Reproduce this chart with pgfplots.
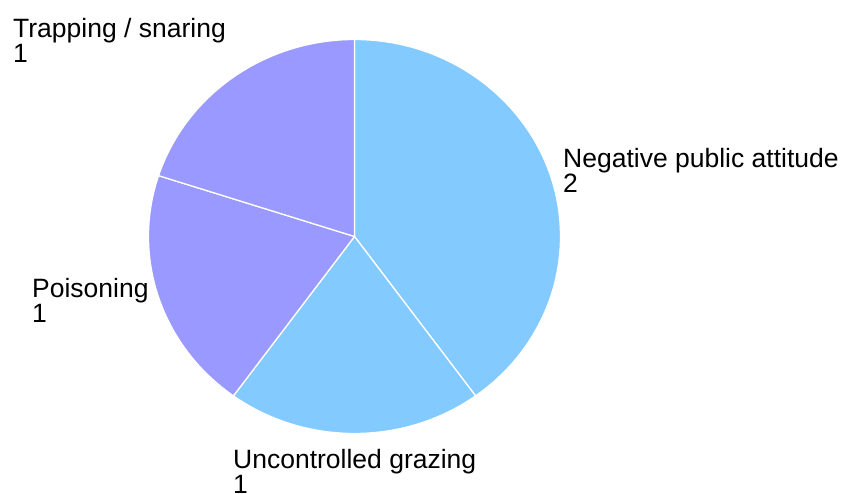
\documentclass[border=0pt]{standalone}
\usepackage{pgfplots}
\pgfplotsset{compat=1.18}
\usepackage{fontspec}
\setmainfont{Liberation Sans}
\definecolor{pieblue}{RGB}{130,202,255}
\definecolor{piepurple}{RGB}{153,153,255}
\newcommand{\lbl}{\fontsize{26.5}{25}\selectfont}
\begin{document}
\begin{tikzpicture}
\begin{axis}[
  width=843pt, height=493pt, scale only axis,
  xmin=0, xmax=843, ymin=0, ymax=493,
  hide axis, clip=false]
\path (axis cs:0,0) (axis cs:843,493);
\pgfplotsextra{
  \xdef\cum{90}
  \foreach \v/\c in {2/pieblue,1/pieblue,1/piepurple,1/piepurple}{
    \pgfmathsetmacro{\s}{\cum}
    \pgfmathsetmacro{\e}{\cum-\v/5*360}
    \fill[\c, draw=white, line width=1.3pt, line join=round]
      (axis cs:354.5,256.5) -- ++(\s:206pt and 197pt)
      arc[start angle=\s, end angle=\e, x radius=206pt, y radius=197pt] -- cycle;
    \xdef\cum{\e}
  }
}
\node[anchor=base west, inner sep=0pt, font=\lbl] at (axis cs:563,325) {Negative public attitude};
\node[anchor=base west, inner sep=0pt, font=\lbl] at (axis cs:563,300) {2};
\node[anchor=base west, inner sep=0pt, font=\lbl] at (axis cs:233,25) {Uncontrolled grazing};
\node[anchor=base west, inner sep=0pt, font=\lbl] at (axis cs:233,0) {1};
\node[anchor=base west, inner sep=0pt, font=\lbl] at (axis cs:32,195) {Poisoning};
\node[anchor=base west, inner sep=0pt, font=\lbl] at (axis cs:32,170) {1};
\node[anchor=base west, inner sep=0pt, font=\lbl] at (axis cs:13,455) {Trapping / snaring};
\node[anchor=base west, inner sep=0pt, font=\lbl] at (axis cs:13,430) {1};
\end{axis}
\end{tikzpicture}
\end{document}
